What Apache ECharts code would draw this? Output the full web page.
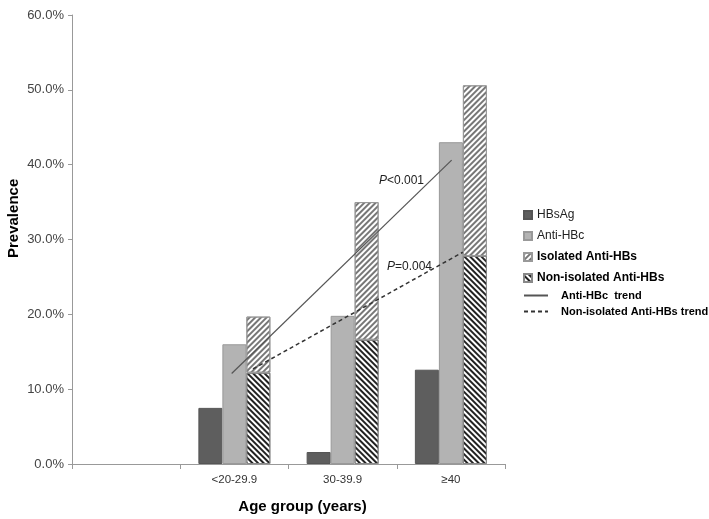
<!DOCTYPE html>
<html>
<head>
<meta charset="utf-8">
<script src="https://cdn.jsdelivr.net/npm/echarts@6/dist/echarts.min.js"></script>
<style>
  html, body { margin: 0; padding: 0; background: #fff; }
  #chart { width: 709px; height: 519px; }
</style>
</head>
<body>
<div id="chart"></div>
<script>
// Datos (en %)
const categories = ['', '<20-29.9', '30-39.9', '≥40']
const hbsAg = [null, 7.5, 1.6, 12.6]
const antiHBc = [null, 16.0, 19.8, 43.0]
const nonIsolated = [null, 12.2, 16.6, 27.8]
const isolated = [null, 7.5, 18.4, 22.8]
// Líneas de tendencia: [posición en unidades de categoría, valor %]
const antiHBcTrend = [[1.475, 12.1], [3.507, 40.6]]
const nonIsolatedTrend = [[1.672, 12.7], [3.61, 28.3]]
const yTicks = { min: 0, max: 60, interval: 10 }

const font = '"Liberation Sans", Arial, sans-serif'
const chart = echarts.init(document.getElementById('chart'))

const option = {
  animation: false,
  backgroundColor: '#fff',
  textStyle: { fontFamily: font },
  grid: { left: 72, right: 204, top: 15, bottom: 51 },
  legend: [
    {
      orient: 'vertical',
      left: 518,
      top: 204,
      icon: 'rect',
      itemWidth: 8,
      itemHeight: 8,
      itemGap: 9,
      textStyle: { fontSize: 12, color: '#222', fontFamily: font },
      data: [
        { name: 'HBsAg' },
        { name: 'Anti-HBc' },
        { name: 'Isolated Anti-HBs', textStyle: { fontWeight: 'bold', color: '#000' } },
        { name: 'Non-isolated Anti-HBs', textStyle: { fontWeight: 'bold', color: '#000' } }
      ]
    },
    {
      orient: 'vertical',
      left: 518,
      top: 285,
      itemWidth: 24,
      itemHeight: 10,
      itemGap: 5,
      itemStyle: { opacity: 0 },
      textStyle: { fontSize: 11, fontWeight: 'bold', color: '#000', fontFamily: font, padding: [0, 0, 0, 8] },
      data: ['Anti-HBc  trend', 'Non-isolated Anti-HBs trend']
    }
  ],
  xAxis: [
    {
      type: 'category',
      data: categories,
      axisLine: { lineStyle: { color: '#999' } },
      axisTick: { show: true, length: 5, lineStyle: { color: '#999' } },
      axisLabel: { color: '#333', fontSize: 11.5, margin: 10 },
      name: 'Age group (years)',
      nameLocation: 'middle',
      nameGap: 35,
      nameTextStyle: { fontSize: 15, fontWeight: 'bold', color: '#000', padding: [0, 0, 0, 28] }
    },
    {
      type: 'value',
      min: 0,
      max: 4,
      show: false
    }
  ],
  yAxis: {
    type: 'value',
    min: yTicks.min,
    max: yTicks.max,
    interval: yTicks.interval,
    axisLine: { show: true, lineStyle: { color: '#999' } },
    axisTick: { show: true, length: 4, lineStyle: { color: '#999' } },
    splitLine: { show: false },
    axisLabel: {
      color: '#444',
      fontSize: 13,
      margin: 8,
      formatter: v => v.toFixed(1) + '%'
    }
  },
  graphic: [
    {
      type: 'text',
      rotation: Math.PI / 2,
      style: { text: 'Prevalence', font: 'bold 15px ' + font, fill: '#000' },
      x: 6, y: 258
    },
    {
      type: 'text',
      x: 379, y: 175,
      style: {
        text: '{i|P}<0.001',
        rich: { i: { fontStyle: 'italic', fontSize: 12, fontFamily: font, fill: '#222' } },
        font: '12px ' + font, fill: '#222'
      }
    },
    {
      type: 'text',
      x: 387, y: 261,
      style: {
        text: '{i|P}=0.004',
        rich: { i: { fontStyle: 'italic', fontSize: 12, fontFamily: font, fill: '#222' } },
        font: '12px ' + font, fill: '#222'
      }
    }
  ],
  series: [
    {
      name: 'HBsAg',
      type: 'bar',
      data: hbsAg,
      barWidth: 24,
      barGap: '0%',
      itemStyle: { color: '#5e5e5e', borderColor: '#555', borderWidth: 1 }
    },
    {
      name: 'Anti-HBc',
      type: 'bar',
      data: antiHBc,
      barWidth: 24,
      barGap: '0%',
      itemStyle: { color: '#b3b3b3', borderColor: '#999', borderWidth: 1 }
    },
    {
      name: 'Non-isolated Anti-HBs',
      type: 'bar',
      stack: 'hbs',
      data: nonIsolated,
      barWidth: 24,
      barGap: '0%',
      itemStyle: {
        color: '#fff',
        borderColor: '#888',
        borderWidth: 1,
        decal: {
          symbol: 'rect',
          symbolSize: 1,
          dashArrayX: [1, 0],
          dashArrayY: [2, 1.5],
          rotation: Math.PI / 4,
          color: '#222'
        }
      }
    },
    {
      name: 'Isolated Anti-HBs',
      type: 'bar',
      stack: 'hbs',
      data: isolated,
      barWidth: 24,
      barGap: '0%',
      itemStyle: {
        color: '#fff',
        borderColor: '#999',
        borderWidth: 1,
        decal: {
          symbol: 'rect',
          symbolSize: 1,
          dashArrayX: [1, 0],
          dashArrayY: [1.5, 2],
          rotation: -Math.PI / 4,
          color: '#777'
        }
      }
    },
    {
      name: 'Anti-HBc  trend',
      type: 'line',
      xAxisIndex: 1,
      data: antiHBcTrend,
      symbol: 'none',
      lineStyle: { color: '#555', width: 1.2 },
      itemStyle: { color: '#555' },
      z: 5
    },
    {
      name: 'Non-isolated Anti-HBs trend',
      type: 'line',
      xAxisIndex: 1,
      data: nonIsolatedTrend,
      symbol: 'none',
      lineStyle: { color: '#333', width: 1.5, type: [4, 3] },
      itemStyle: { color: '#333' },
      z: 5
    }
  ]
}

chart.setOption(option)
</script>
</body>
</html>
